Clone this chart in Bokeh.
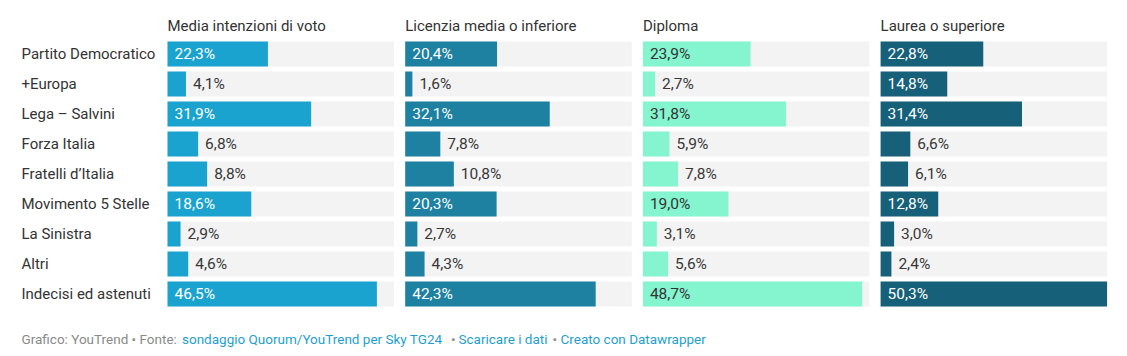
from bokeh.plotting import figure
from bokeh.models import Range1d, ColumnDataSource
from bokeh.core.properties import value
from bokeh.embed import file_html
from bokeh.resources import INLINE

# ---------------- data ----------------
parties = ["Partito Democratico", "+Europa", "Lega – Salvini", "Forza Italia",
           "Fratelli d’Italia", "Movimento 5 Stelle", "La Sinistra", "Altri",
           "Indecisi ed astenuti"]
panels = ["Media intenzioni di voto", "Licenzia media o inferiore", "Diploma",
          "Laurea o superiore"]
media = [22.3, 4.1, 31.9, 6.8, 8.8, 18.6, 2.9, 4.6, 46.5]
licenza = [20.4, 1.6, 32.1, 7.8, 10.8, 20.3, 2.7, 4.3, 42.3]
diploma = [23.9, 2.7, 31.8, 5.9, 7.8, 19.0, 3.1, 5.6, 48.7]
laurea = [22.8, 14.8, 31.4, 6.6, 6.1, 12.8, 3.0, 2.4, 50.3]
series = [media, licenza, diploma, laurea]
footer_parts = [("Grafico: YouTrend • Fonte: ", "gray"),
                ("sondaggio Quorum/YouTrend per Sky TG24", "link"),
                ("•", "gray"),
                ("Scaricare i dati", "link"),
                ("•", "gray"),
                ("Creato con Datawrapper", "link")]

# ---------------- layout / style ----------------
colors = ["#1aa3cf", "#1e81a1", "#84f5cf", "#176079"]
inside_text = ["#ffffff", "#ffffff", "#333333", "#ffffff"]
BG = "#f3f3f3"
FONT = value("Roboto")
W, H = 1127, 350
X0 = 167.0          # page x of first panel start
MAXV = max(max(s) for s in series)
S = 226.5 / MAXV    # px per percentage point
PITCH = 237.7       # px between panel starts
ROW0, ROWH = 53.5, 30.0


def dx(px):
    return (px - X0) / S


def dy(py):
    return (py - ROW0) / ROWH


p = figure(width=W, height=H,
           x_range=Range1d(dx(0), dx(W)),
           y_range=Range1d(dy(H), dy(0)),
           output_backend="svg", toolbar_location=None, min_border=0,
           x_axis_location=None, y_axis_location=None)
p.grid.visible = False
p.outline_line_color = None
p.background_fill_color = "white"
p.border_fill_color = "white"

rows = list(range(len(parties)))

# category labels
p.text(x=[dx(21)] * len(parties), y=rows, text=parties, text_font=FONT,
       text_font_size="15px", text_color="#333333", text_align="left",
       text_baseline="middle")

for k, (name, vals) in enumerate(zip(panels, series)):
    off = k * PITCH / S
    src = ColumnDataSource(dict(
        y=rows,
        left=[off] * len(vals),
        right=[off + v for v in vals],
        bgright=[off + MAXV] * len(vals),
        lab=[("%.1f%%" % v).replace(".", ",") for v in vals],
    ))
    p.hbar(y="y", left="left", right="bgright", height=25 / ROWH, source=src,
           fill_color=BG, line_color=None)
    p.hbar(y="y", left="left", right="right", height=25 / ROWH, source=src,
           fill_color=colors[k], line_color=None)

    ins = [i for i, v in enumerate(vals) if v >= 12]
    outs = [i for i, v in enumerate(vals) if v < 12]
    p.text(x=[off] * len(ins), y=[rows[i] for i in ins],
           text=[src.data["lab"][i] for i in ins], x_offset=7,
           text_font=FONT, text_font_size="15.5px", text_color=inside_text[k],
           text_align="left", text_baseline="middle")
    p.text(x=[off + vals[i] for i in outs], y=[rows[i] for i in outs],
           text=[src.data["lab"][i] for i in outs], x_offset=7,
           text_font=FONT, text_font_size="15.5px", text_color="#383838",
           text_align="left", text_baseline="middle")
    # header
    p.text(x=[off], y=[dy(25)], text=[name], text_font=FONT,
           text_font_size="15px", text_color="#333333", text_align="left",
           text_baseline="middle")

# footer
foot_x = [21, 181.5, 450.5, 458, 552, 560]
for (txt, kind), fx in zip(footer_parts, foot_x):
    p.text(x=[dx(fx)], y=[dy(338)], text=[txt], text_font=FONT,
           text_font_size="13.5px",
           text_color="#8a8a8a" if kind == "gray" else "#1f9fd0",
           text_align="left", text_baseline="middle")

open("out.html", "w").write(file_html(p, INLINE))
